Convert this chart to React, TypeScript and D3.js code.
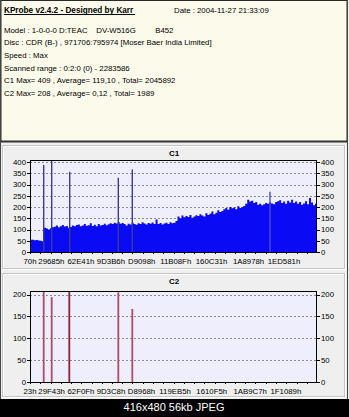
import React from "react";
import * as d3 from "d3";

const FONT = "'Liberation Sans', Arial, sans-serif";

const titleText = "KProbe v2.4.2 - Designed by Karr";
const dateText = "Date : 2004-11-27 21:33:09";
const infoLines = [
  "Model : 1-0-0-0 D:TEAC    DV-W516G         B452",
  "Disc : CDR (B-) , 971706:795974 [Moser Baer India Limited]",
  "Speed : Max",
  "Scanned range : 0:2:0 (0) - 2283586",
  "C1 Max= 409 , Average= 119,10 , Total= 2045892",
  "C2 Max= 208 , Average= 0,12 , Total= 1989",
];
const captionText = "416x480 56kb JPEG";

const lbaEnd = 2283586;

// C1 block error samples, evenly spaced over the scanned range
const c1Values = [
  55, 54, 52, 53, 51, 50, 47, 108, 104, 100, 106, 110,
  112, 118, 110, 115, 120, 113, 116, 108, 111, 118, 115, 120,
  122, 114, 118, 125, 117, 119, 128, 116, 121, 115, 124, 118,
  120, 126, 119, 123, 128, 125, 130, 127, 133, 126, 129, 124,
  118, 126, 122, 130, 125, 121, 128, 124, 132, 127, 122, 129,
  126, 131, 125, 145, 124, 129, 122, 127, 130, 125, 132, 128,
  130, 138, 158, 150, 162, 154, 160, 156, 165, 152, 158, 163,
  160, 168, 162, 158, 172, 165, 170, 180, 168, 175, 186, 178,
  182, 190, 196, 188, 200, 194, 198, 190, 203, 196, 200, 205,
  215, 232, 224, 228, 218, 222, 210, 215, 208, 212, 218, 214,
  220, 216, 212, 222, 226, 230, 218, 224, 215, 228, 220, 232,
  218, 225, 214, 222, 210, 216, 226, 212, 240, 220, 208, 214,
];
const c1SpikeLba = [109000, 172660, 315900, 702600, 814000, 1909600];
const c1SpikeValues = [387, 409, 357, 330, 367, 268];
const c1Max = 409;
const c1YTicks = [0, 50, 100, 150, 200, 250, 300, 350, 400];
const c1XTicks = ["70h", "29685h", "62E41h", "9D3B6h", "D9098h", "11B08Fh", "160C31h", "1A8978h", "1ED581h"];

const c2SpikeLba = [109000, 172660, 312700, 702600, 814000];
const c2SpikeValues = [208, 194, 208, 205, 167];
const c2Max = 208;
const c2YTicks = [0, 50, 100, 150, 200];
const c2XTicks = ["23h", "29F43h", "62F0Fh", "9D3C8h", "D8968h", "119EB5h", "1610F5h", "1AB9C7h", "1F1089h"];

const hexVal = (s: string) => parseInt(s.replace("h", ""), 16);

type PanelProps = {
  title: string;
  boxTop: number;
  boxBottom: number;
  plotTop: number;
  plotBottom: number;
  yMax: number;
  yTicks: number[];
  xTicks: string[];
  children: (x: d3.ScaleLinear<number, number>, y: d3.ScaleLinear<number, number>) => React.ReactNode;
};

function Panel({ title, boxTop, boxBottom, plotTop, plotBottom, yMax, yTicks, xTicks, children }: PanelProps) {
  const left = 30;
  const right = 317;
  const x = d3.scaleLinear().domain([0, lbaEnd]).range([left, right]);
  const y = d3.scaleLinear().domain([0, yMax]).range([plotBottom, plotTop]);
  const minor = d3.range(0, lbaEnd, lbaEnd / 28);
  return (
    <g>
      <rect x={3.5} y={boxTop + 0.5} width={342} height={boxBottom - boxTop} fill="none" stroke="#ffffff" />
      <rect x={2.5} y={boxTop - 0.5} width={342} height={boxBottom - boxTop} fill="none" stroke="#c4c4c4" />
      <text x={174} y={boxTop + 10} fontFamily={FONT} fontSize={8} fontWeight="bold" textAnchor="middle" fill="#000">
        {title}
      </text>
      <rect x={left} y={plotTop} width={right - left} height={plotBottom - plotTop} fill="#eeeefc" />
      {yTicks.filter((t) => t > 0).map((t) => (
        <line key={"g" + t} x1={left} x2={right} y1={Math.round(y(t)) + 0.5} y2={Math.round(y(t)) + 0.5}
          stroke="#8a8a8a" strokeDasharray="2,2" />
      ))}
      {children(x, y)}
      <rect x={left + 0.5} y={plotTop + 0.5} width={right - left - 1} height={plotBottom - plotTop} fill="none" stroke="#000" />
      {minor.map((m, i) => (
        <line key={"m" + i} x1={Math.round(x(m)) + 0.5} x2={Math.round(x(m)) + 0.5} y1={plotBottom} y2={plotBottom + 2} stroke="#000" />
      ))}
      {yTicks.map((t) => (
        <g key={"t" + t}>
          <line x1={left - 3} x2={left} y1={Math.round(y(t)) + 0.5} y2={Math.round(y(t)) + 0.5} stroke="#000" />
          <line x1={right} x2={right + 3} y1={Math.round(y(t)) + 0.5} y2={Math.round(y(t)) + 0.5} stroke="#000" />
          <text x={left - 4} y={y(t) + 2.8} fontFamily={FONT} fontSize={7.8} textAnchor="end" fill="#000">{t}</text>
          <text x={right + 4} y={y(t) + 2.8} fontFamily={FONT} fontSize={7.8} textAnchor="start" fill="#000">{t}</text>
        </g>
      ))}
      {xTicks.map((s) => (
        <text key={s} x={x(hexVal(s))} y={plotBottom + 12} fontFamily={FONT} fontSize={7.8} textAnchor="middle" fill="#000">
          {s}
        </text>
      ))}
    </g>
  );
}

export default function App() {
  const step = lbaEnd / c1Values.length;
  const c1Points = [...c1Values, c1Values[c1Values.length - 1]].map((v, i) => ({ l: i * step, v }));
  return (
    <svg width={349} height={417} style={{ position: "absolute", left: 0, top: 0, display: "block" }}>
      <rect x={0} y={0} width={349} height={417} fill="#efefef" />
      {/* header panel */}
      <rect x={1} y={0.5} width={346} height={141} fill="#fcfaea" stroke="#2a2a2a" />
      <line x1={1} x2={347} y1={141.5} y2={141.5} stroke="#333" strokeWidth={2} />
      <text x={4} y={13} fontFamily={FONT} fontSize={8.2} fontWeight="bold" fill="#000">
        {titleText}
      </text>
      <line x1={4} x2={135} y1={14.5} y2={14.5} stroke="#000" />
      <text x={174} y={13} fontFamily={FONT} fontSize={7.8} fill="#000">{dateText}</text>
      {infoLines.map((l, i) => (
        <text key={i} x={4} y={32.5 + i * 12.7} fontFamily={FONT} fontSize={7.8} fill="#000" style={{ whiteSpace: "pre" }}>
          {l}
        </text>
      ))}
      <line x1={347.5} x2={347.5} y1={0} y2={399} stroke="#444" />
      <line x1={0.5} x2={0.5} y1={0} y2={399} stroke="#444" />

      <Panel title="C1" boxTop={146} boxBottom={269} plotTop={160} plotBottom={252} yMax={c1Max}
        yTicks={c1YTicks} xTicks={c1XTicks}>
        {(x, y) => {
          const area = d3.area<{ l: number; v: number }>()
            .x((d) => x(d.l))
            .y0(y(0))
            .y1((d) => y(d.v))
            .curve(d3.curveStepAfter);
          return (
            <g>
              <path d={area(c1Points) || ""} fill="#0a0af5" />
              {c1SpikeLba.map((l, i) => (
                <line key={"s" + i} x1={x(l)} x2={x(l)} y1={y(0)} y2={y(c1SpikeValues[i])}
                  stroke={i === 5 ? "#4a4ad0" : "#3c3c8c"} strokeWidth={1.4} />
              ))}
            </g>
          );
        }}
      </Panel>

      <Panel title="C2" boxTop={274} boxBottom={397} plotTop={291} plotBottom={382} yMax={c2Max}
        yTicks={c2YTicks} xTicks={c2XTicks}>
        {(x, y) => (
          <g>
            {c2SpikeLba.map((l, i) => (
              <line key={"s" + i} x1={x(l)} x2={x(l)} y1={y(0)} y2={y(c2SpikeValues[i])}
                stroke={i === 2 ? "#8a2236" : "#b04a66"} strokeWidth={1.8} />
            ))}
          </g>
        )}
      </Panel>

      <rect x={0} y={399} width={349} height={18} fill="#000" />
      <text x={174} y={411} fontFamily={FONT} fontSize={11} textAnchor="middle" fill="#fff">{captionText}</text>
    </svg>
  );
}
